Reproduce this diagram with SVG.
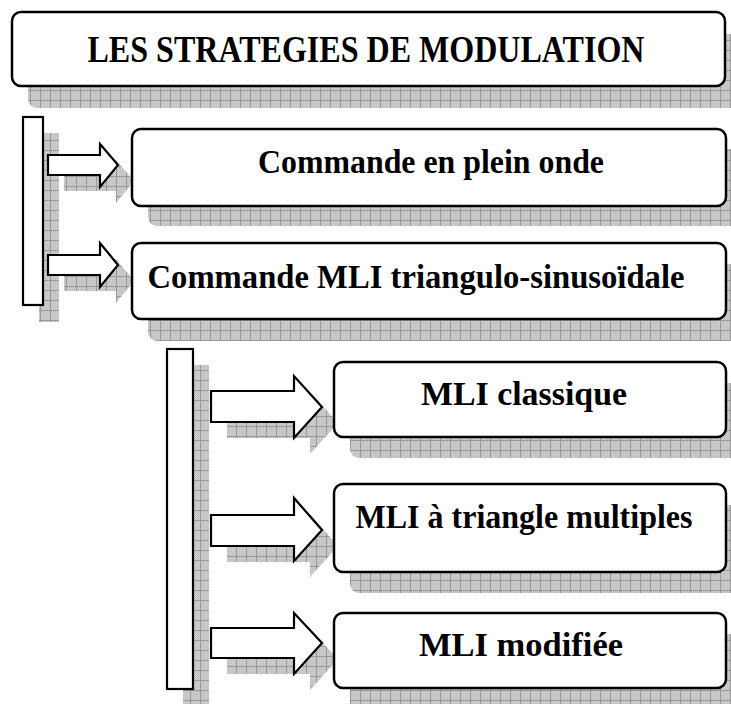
<svg xmlns="http://www.w3.org/2000/svg" width="731" height="704" viewBox="0 0 731 704">
<defs>
<pattern id="dots" width="2" height="2" patternUnits="userSpaceOnUse">
<rect width="2" height="2" fill="#d2d2d2"/>
<rect width="1" height="1" fill="#bdbdbd"/>
<rect x="1" y="1" width="1" height="1" fill="#bdbdbd"/>
</pattern>
<pattern id="grid" width="10" height="10" patternUnits="userSpaceOnUse">
<rect width="10" height="10" fill="url(#dots)"/>
<rect width="10" height="1" fill="#999"/>
<rect width="1" height="10" fill="#999"/>
</pattern>
<style>
.sh{fill:url(#grid);stroke:none}
.box{fill:#fff;stroke:#000;stroke-width:2.5}
.bar{fill:#fff;stroke:#000;stroke-width:2.2}
.arr{fill:#fff;stroke:#000;stroke-width:2.2;stroke-linejoin:miter}
.t{font-family:"Liberation Serif","Times New Roman",serif;font-weight:bold;font-size:34px;fill:#000;text-anchor:middle}
.tt{font-size:37px}
</style>
</defs>
<rect width="731" height="704" fill="#fff"/>

<g id="title">
<rect class="sh" x="28" y="34" width="720" height="74" rx="9"/>
<rect class="box" x="12" y="12" width="713" height="74" rx="9"/>
<text class="t tt" x="366" y="62" textLength="557" lengthAdjust="spacingAndGlyphs">LES STRATEGIES DE MODULATION</text>
</g>

<g id="bar1">
<rect class="sh" x="39" y="133" width="20" height="189"/>
<rect class="bar" x="23" y="117" width="20" height="188"/>
</g>

<g id="bar2">
<rect class="sh" x="183" y="365" width="26" height="339"/>
<rect class="bar" x="167" y="349" width="26" height="340"/>
</g>

<g id="connectors">
<g transform="translate(16,16)">
<polygon class="sh" points="48,155 100,155 100,144 118,165 100,187 100,175 48,175"/>
<polygon class="sh" points="48,255 100,255 100,243 118,265 100,287 100,275 48,275"/>
<polygon class="sh" points="211,391 294,391 294,376 322,407 294,438 294,422 211,422"/>
<polygon class="sh" points="211,515 294,515 294,498 322,530 294,561 294,546 211,546"/>
<polygon class="sh" points="211,628 294,628 294,613 322,643 294,674 294,658 211,658"/>
</g>
<polygon class="arr" points="48,155 100,155 100,144 118,165 100,187 100,175 48,175"/>
<polygon class="arr" points="48,255 100,255 100,243 118,265 100,287 100,275 48,275"/>
<polygon class="arr" points="211,391 294,391 294,376 322,407 294,438 294,422 211,422"/>
<polygon class="arr" points="211,515 294,515 294,498 322,530 294,561 294,546 211,546"/>
<polygon class="arr" points="211,628 294,628 294,613 322,643 294,674 294,658 211,658"/>
</g>

<g id="box1">
<rect class="sh" x="148" y="149" width="600" height="77" rx="9"/>
<rect class="box" x="132" y="129" width="594" height="77" rx="9"/>
<text class="t" x="431" y="173" textLength="346" lengthAdjust="spacingAndGlyphs">Commande en plein onde</text>
</g>

<g id="box2">
<rect class="sh" x="148" y="264" width="600" height="77" rx="9"/>
<rect class="box" x="132" y="243" width="594" height="76" rx="9"/>
<text class="t" x="416" y="288" textLength="537" lengthAdjust="spacingAndGlyphs">Commande MLI triangulo-sinusoïdale</text>
</g>

<g id="box3">
<rect class="sh" x="350" y="383" width="400" height="75" rx="9"/>
<rect class="box" x="334" y="362" width="392" height="75" rx="9"/>
<text class="t" x="524" y="405" textLength="206" lengthAdjust="spacingAndGlyphs">MLI classique</text>
</g>

<g id="box4">
<rect class="sh" x="350" y="505" width="400" height="88" rx="9"/>
<rect class="box" x="334" y="484" width="392" height="88" rx="9"/>
<text class="t" x="524" y="528" textLength="337" lengthAdjust="spacingAndGlyphs">MLI à triangle multiples</text>
</g>

<g id="box5">
<rect class="sh" x="350" y="634" width="400" height="80" rx="9"/>
<rect class="box" x="334" y="613" width="392" height="75" rx="9"/>
<text class="t" x="521" y="656" textLength="204" lengthAdjust="spacingAndGlyphs">MLI modifiée</text>
</g>
</svg>
